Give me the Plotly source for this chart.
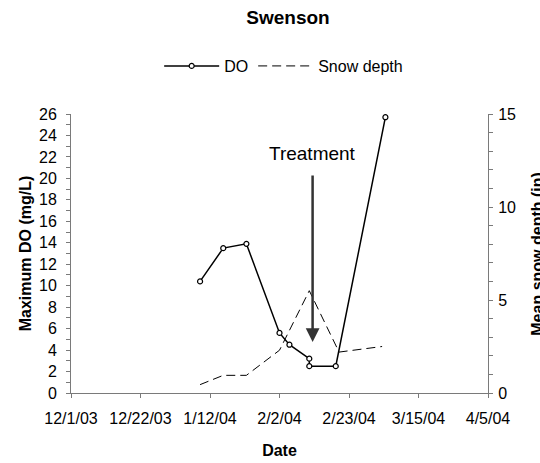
import plotly.graph_objects as go

# ---- data ----
do_dates = ["2004-01-09", "2004-01-16", "2004-01-23", "2004-02-02", "2004-02-05",
            "2004-02-11", "2004-02-11", "2004-02-19", "2004-03-05"]
do_values = [10.4, 13.5, 13.9, 5.6, 4.5, 3.2, 2.5, 2.5, 25.7]

snow_dates = ["2004-01-09", "2004-01-16", "2004-01-23", "2004-02-02",
              "2004-02-11", "2004-02-20", "2004-03-04"]
snow_values = [0.45, 0.95, 0.95, 2.3, 5.5, 2.2, 2.5]

x_tick_dates = ["2003-12-01", "2003-12-22", "2004-01-12", "2004-02-02",
                "2004-02-23", "2004-03-15", "2004-04-05"]
x_tick_labels = ["12/1/03", "12/22/03", "1/12/04", "2/2/04",
                 "2/23/04", "3/15/04", "4/5/04"]

treatment_date = "2004-02-12"
treatment_tip = 4.76
treatment_tail = 20.4
treatment_label_y = 22.3

FONT = "Arial, 'Liberation Sans', sans-serif"
AXIS_COLOR = "#7a7a7a"

fig = go.Figure()

fig.add_trace(go.Scatter(
    x=do_dates, y=do_values, name="DO", mode="lines+markers",
    line=dict(color="black", width=1.5),
    marker=dict(symbol="circle", size=5, color="white",
                line=dict(color="black", width=1.2)),
    yaxis="y",
))

fig.add_trace(go.Scatter(
    x=snow_dates, y=snow_values, name="Snow depth", mode="lines",
    line=dict(color="black", width=1, dash="9px,5px"),
    yaxis="y2",
))

fig.update_layout(
    width=540, height=463,
    margin=dict(l=71, r=52, t=114, b=70, autoexpand=False),
    paper_bgcolor="white", plot_bgcolor="white",
    font=dict(family=FONT, size=16, color="black"),
    title=dict(text="<b>Swenson</b>", x=288 / 540, xanchor="center",
               y=1 - 17.5 / 463, yanchor="middle",
               font=dict(family=FONT, size=19, color="black")),
    showlegend=True,
    legend=dict(orientation="h", x=0.51, xanchor="center",
                y=1.172, yanchor="middle", itemwidth=55,
                font=dict(family=FONT, size=16), bgcolor="rgba(0,0,0,0)"),
    xaxis=dict(
        type="date", automargin=False,
        range=[x_tick_dates[0], x_tick_dates[-1]],
        tickmode="array", tickvals=x_tick_dates, ticktext=x_tick_labels,
        ticks="outside", ticklen=4, tickcolor=AXIS_COLOR, tickwidth=1,
        ticklabelstandoff=7,
        showline=True, linecolor=AXIS_COLOR, linewidth=1,
        showgrid=False, zeroline=False,
        tickfont=dict(family=FONT, size=16),
        title=dict(text="<b>Date</b>", standoff=18,
                   font=dict(family=FONT, size=16)),
    ),
    yaxis=dict(
        range=[0, 26], dtick=2, tick0=0, automargin=False,
        ticks="outside", ticklen=4, tickcolor=AXIS_COLOR, tickwidth=1,
        ticklabelstandoff=6,
        minor=dict(dtick=1, ticks="outside", ticklen=4, tickcolor=AXIS_COLOR),
        showline=True, linecolor=AXIS_COLOR, linewidth=1,
        showgrid=False, zeroline=False,
        tickfont=dict(family=FONT, size=16),
        title=dict(text="<b>Maximum DO (mg/L)</b>", standoff=3,
                   font=dict(family=FONT, size=16)),
    ),
    yaxis2=dict(
        range=[0, 15], dtick=5, tick0=0, overlaying="y", side="right",
        automargin=False,
        ticks="outside", ticklen=4, tickcolor=AXIS_COLOR, tickwidth=1,
        ticklabelstandoff=2,
        minor=dict(dtick=1, ticks="outside", ticklen=4, tickcolor=AXIS_COLOR),
        showline=True, linecolor=AXIS_COLOR, linewidth=1,
        showgrid=False, zeroline=False,
        tickfont=dict(family=FONT, size=16),
    ),
)

fig.add_annotation(
    x=1.118, y=0.5, xref="paper", yref="paper",
    text="<b>Mean snow depth (in)</b>", textangle=-90, showarrow=False,
    font=dict(family=FONT, size=16, color="black"),
    xanchor="center", yanchor="middle",
)

fig.add_annotation(
    x=treatment_date, y=treatment_label_y, xref="x", yref="y",
    text="Treatment", showarrow=False,
    font=dict(family=FONT, size=19, color="black"),
    xanchor="center", yanchor="middle",
)

fig.add_annotation(
    x=treatment_date, y=treatment_tip, xref="x", yref="y",
    ax=treatment_date, ay=treatment_tail, axref="x", ayref="y",
    text="", showarrow=True, arrowhead=2, arrowsize=1.1, arrowwidth=2.5,
    arrowcolor="#333333", standoff=0,
)

fig.write_html("out.html", config={"displayModeBar": False},
               post_script="document.body.style.margin='0';")
